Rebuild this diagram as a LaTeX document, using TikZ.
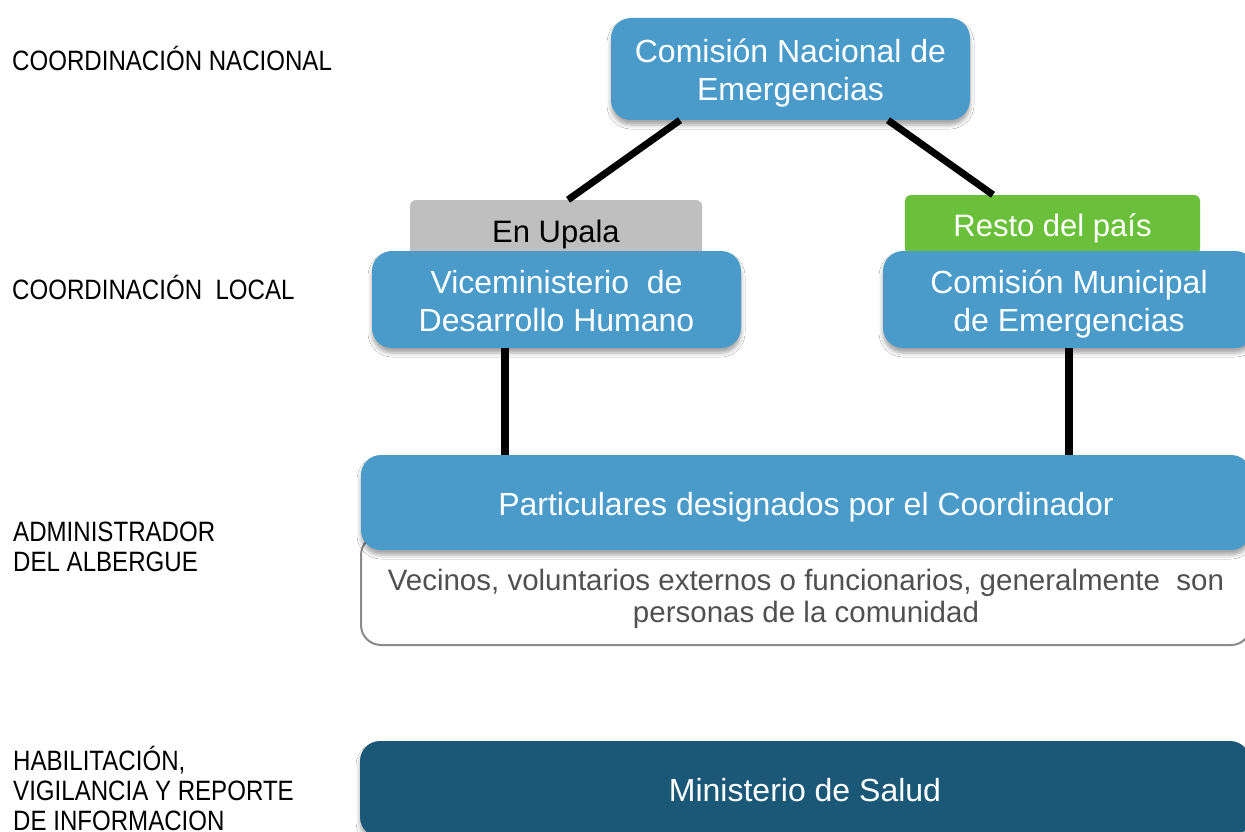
\documentclass[tikz,border=0pt]{standalone}
\usepackage{fontspec}
\setmainfont{Liberation Sans}
\newfontfamily\narrowfont[FakeStretch=0.86]{Liberation Sans}
\usetikzlibrary{shadows.blur,calc}
\definecolor{boxblue}{HTML}{4A9ACA}
\definecolor{darkblue}{HTML}{1B5878}
\definecolor{tabgreen}{HTML}{6ABF3B}
\definecolor{tabgray}{HTML}{BFBFBF}
\definecolor{framegray}{HTML}{8A8A8A}
\definecolor{notegray}{HTML}{505050}
\tikzset{
  shad/.style={blur shadow={shadow xshift=0pt, shadow yshift=-5pt, shadow blur radius=4pt, shadow opacity=35}},
  bluebox/.style={draw=none, fill=boxblue, rounded corners=20pt, text=white, align=center, inner sep=0pt, shad,
    font=\fontsize{32}{38}\selectfont},
  oneline/.style={execute at begin node={\rule{0pt}{33pt}},
    execute at end node={\rule[-8pt]{0pt}{8pt}}},
  twoline/.style={text height=70pt, text depth=7pt},
  tabbox/.style={draw=none, rounded corners=6pt, align=center, inner sep=0pt, font=\fontsize{31}{37}\selectfont,
    execute at begin node={\rule{0pt}{31pt}},
    execute at end node={\rule[-8pt]{0pt}{8pt}}},
  conn/.style={line width=7pt, black},
  vconn/.style={line width=8pt, black},
  lefttext/.style={anchor=base west, align=left, inner sep=0pt, font=\narrowfont\fontsize{28}{30}\selectfont}
}
\begin{document}
\begin{tikzpicture}[x=1pt,y=-1pt]
\useasboundingbox (0,0) rectangle (1245,832);
\clip (0,0) rectangle (1245,832);
\fill[white] (0,0) rectangle (1245,832);

% left labels (anchor: baseline of the last line)
\node[lefttext] (l1) at (12,71) {COORDINACIÓN NACIONAL};
\node[lefttext] (l2) at (12,299) {COORDINACIÓN\ \ LOCAL};
\node[lefttext] (l3) at (13,571) {ADMINISTRADOR\\DEL ALBERGUE};
\node[lefttext] (l4) at (13,830) {HABILITACIÓN,\\VIGILANCIA Y REPORTE\\DE INFORMACION};

% top box
\node[bluebox, twoline, minimum width=359pt, minimum height=102pt] (cne) at (790.5,69) {Comisión Nacional de\\Emergencias};

% tabs
\node[tabbox, fill=tabgray, text=black, minimum width=292pt, minimum height=62pt] (upala) at (556,231) {En Upala};
\node[tabbox, fill=tabgreen, text=white, minimum width=295pt, minimum height=60pt] (resto) at (1052.5,225) {Resto del país};

% connectors from top
\draw[conn] ([xshift=-110.5pt]cne.south) -- ([xshift=12pt]upala.north);
\draw[conn] ([xshift=97.5pt]cne.south) -- ([xshift=-59.5pt]resto.north);

% local boxes
\node[bluebox, twoline, minimum width=369pt, minimum height=97pt] (vice) at (556.5,299.5) {Viceministerio\ \ de\\Desarrollo Humano};
\node[bluebox, twoline, minimum width=372pt, minimum height=97pt] (muni) at (1069,299.5) {Comisión Municipal\\de Emergencias};

% white note box
\node[draw=framegray, line width=2pt, fill=white, rounded corners=20pt, minimum width=890pt, minimum height=110pt, inner sep=0pt] (note) at (806,590) {};
\node[align=center, text=notegray, inner sep=0pt, font=\fontsize{29.5}{32}\selectfont] (notetext) at (806,599) {Vecinos, voluntarios externos o funcionarios, generalmente\ \ son\\personas de la comunidad};

% particulares
\node[bluebox, oneline, minimum width=890pt, minimum height=95pt] (part) at (806,502.5) {Particulares designados por el Coordinador};

% vertical connectors
\draw[vconn] ([xshift=-51.5pt]vice.south) -- ([xshift=-51.5pt]vice.south |- part.north);
\draw[vconn] (muni.south) -- (muni.south |- part.north);

% ministerio
\node[bluebox, oneline, fill=darkblue, minimum width=890pt, minimum height=96pt] (salud) at (805,789) {Ministerio de Salud};
\end{tikzpicture}
\end{document}
